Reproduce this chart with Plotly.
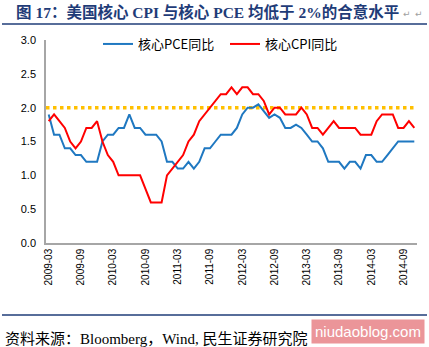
import pandas as pd
import plotly.graph_objects as go

# Monthly categories, 2009-03 .. 2014-11
months = [p.strftime("%Y-%m") for p in pd.period_range("2009-03", "2014-11", freq="M")]

# Year-on-year growth, %
core_pce_yoy = [
    1.9, 1.6, 1.6, 1.4, 1.4, 1.3, 1.3, 1.2, 1.2, 1.2,            # 2009-03 .. 2009-12
    1.5, 1.6, 1.6, 1.7, 1.7, 1.9, 1.7, 1.7, 1.6, 1.6, 1.6, 1.5,  # 2010
    1.2, 1.2, 1.1, 1.1, 1.2, 1.1, 1.2, 1.4, 1.4, 1.5, 1.6, 1.6,  # 2011
    1.6, 1.7, 1.9, 2.0, 2.0, 2.05, 1.95, 1.85, 1.9, 1.85, 1.7, 1.7,  # 2012
    1.75, 1.7, 1.6, 1.5, 1.5, 1.4, 1.2, 1.2, 1.2, 1.1, 1.2, 1.2,  # 2013
    1.1, 1.3, 1.3, 1.2, 1.2, 1.3, 1.4, 1.5, 1.5, 1.5, 1.5,       # 2014-01 .. 2014-11
]
core_cpi_yoy = [
    1.8, 1.9, 1.8, 1.7, 1.5, 1.4, 1.5, 1.7, 1.7, 1.8,            # 2009-03 .. 2009-12
    1.5, 1.3, 1.2, 1.0, 1.0, 1.0, 1.0, 1.0, 0.8, 0.6, 0.6, 0.6,  # 2010
    1.0, 1.1, 1.2, 1.3, 1.5, 1.6, 1.8, 1.9, 2.0, 2.1, 2.2, 2.2,  # 2011
    2.3, 2.2, 2.3, 2.3, 2.2, 2.2, 2.1, 1.9, 2.0, 2.0, 1.9, 1.9,  # 2012
    1.9, 2.0, 1.9, 1.7, 1.7, 1.6, 1.7, 1.8, 1.7, 1.7, 1.7, 1.7,  # 2013
    1.6, 1.6, 1.6, 1.8, 1.9, 1.9, 1.9, 1.7, 1.7, 1.8, 1.7,       # 2014-01 .. 2014-11
]
target_rate = 2.0

tick_months = months[::6]
y_ticks = [0.0, 0.5, 1.0, 1.5, 2.0, 2.5, 3.0]

series_names = ["核心PCE同比", "核心CPI同比"]
title_text = "图 17：美国核心 CPI 与核心 PCE 均低于 2%的合意水平"
source_text = "资料来源：Bloomberg，Wind, 民生证券研究院"

W, H = 429, 347
L, R, T, B = 46, 12, 40, 104


def paper_x(px):
    return (px - L) / (W - L - R)


def paper_y(py):
    return (H - B - py) / (H - T - B)


fig = go.Figure()
fig.add_trace(go.Scatter(
    x=months, y=core_pce_yoy, name=series_names[0], mode="lines",
    line=dict(color="#1F78C1", width=2),
))
fig.add_trace(go.Scatter(
    x=months, y=core_cpi_yoy, name=series_names[1], mode="lines",
    line=dict(color="#FF0000", width=2),
))

# 2% target level, dotted across the full plot width
fig.add_shape(
    type="line", xref="x domain", yref="y", x0=0, x1=1, y0=target_rate, y1=target_rate,
    line=dict(color="#FFC000", width=3.5, dash="dot"), layer="below",
)

# rules under the title and above the source note
for py in (24, 315):
    fig.add_shape(
        type="line", xref="paper", yref="paper",
        x0=paper_x(2), x1=paper_x(427), y0=paper_y(py), y1=paper_y(py),
        line=dict(color="#1F3C78", width=1.5),
    )

fig.add_annotation(
    text="<b>" + title_text + "</b>", xref="paper", yref="paper",
    x=paper_x(14), y=paper_y(12), xanchor="left", yanchor="middle", showarrow=False,
    font=dict(family="Liberation Serif, Noto Sans CJK SC", size=15.5, color="#1F3C78"),
)
for px in (407, 419):
    fig.add_annotation(
        text="↵", xref="paper", yref="paper", x=paper_x(px), y=paper_y(14),
        xanchor="center", yanchor="middle", showarrow=False,
        font=dict(family="DejaVu Sans", size=9, color="#A0A0A0"),
    )
fig.add_annotation(
    text=source_text, xref="paper", yref="paper",
    x=paper_x(3), y=paper_y(338), xanchor="left", yanchor="middle", showarrow=False,
    font=dict(family="Liberation Serif, Noto Sans CJK SC", size=15, color="#000000"),
)
fig.add_annotation(
    text="niudaoblog.com", xref="paper", yref="paper",
    x=paper_x(368), y=paper_y(331.5), xanchor="center", yanchor="middle", showarrow=False,
    font=dict(family="Liberation Sans", size=15, color="#FFFFFF"),
    bgcolor="rgba(232,130,135,0.85)", borderpad=3,
)

fig.update_layout(
    width=W, height=H,
    margin=dict(l=L, r=R, t=T, b=B),
    paper_bgcolor="#FFFFFF", plot_bgcolor="#FFFFFF",
    showlegend=True,
    legend=dict(
        orientation="h", x=paper_x(98), y=paper_y(44), xanchor="left", yanchor="middle",
        bgcolor="rgba(0,0,0,0)", entrywidth=82, entrywidthmode="pixels",
        font=dict(family="Noto Sans CJK SC", size=13, color="#000000"),
    ),
    xaxis=dict(
        type="category", range=[-0.5, len(months) - 0.5],
        tickmode="array", tickvals=tick_months, ticktext=tick_months, tickangle=-90,
        showline=True, linecolor="#A6A6A6", linewidth=1.5, showgrid=False, zeroline=False,
        ticks="", tickfont=dict(family="Liberation Sans", size=10, color="#000000"),
    ),
    yaxis=dict(
        range=[0, 3], tickmode="array", tickvals=y_ticks, tickformat=".1f",
        showline=True, linecolor="#A6A6A6", linewidth=1.5, showgrid=False, zeroline=False,
        ticks="", ticklabelstandoff=6,
        tickfont=dict(family="Liberation Sans", size=11, color="#000000"),
    ),
)

fig.write_html("out.html")
